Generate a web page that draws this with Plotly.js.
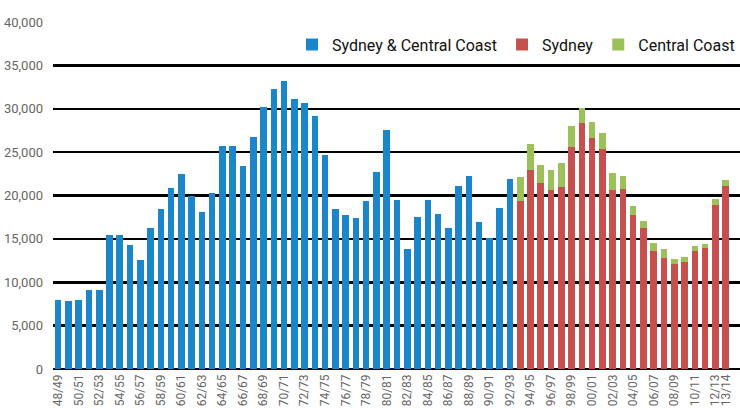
<!DOCTYPE html>
<html>
<head>
<meta charset="utf-8">
<script src="https://cdn.plot.ly/plotly-3.0.1.min.js"></script>
<style>html,body{margin:0;padding:0;background:#fff;}#chart{width:740px;height:408px;}</style>
</head>
<body>
<div id="chart"></div>
<script>
const years = ["48/49","49/50","50/51","51/52","52/53","53/54","54/55","55/56","56/57","57/58",
  "58/59","59/60","60/61","61/62","62/63","63/64","64/65","65/66","66/67","67/68",
  "68/69","69/70","70/71","71/72","72/73","73/74","74/75","75/76","76/77","77/78",
  "78/79","79/80","80/81","81/82","82/83","83/84","84/85","85/86","86/87","87/88",
  "88/89","89/90","90/91","91/92","92/93","93/94","94/95","95/96","96/97","97/98",
  "98/99","99/00","00/01","01/02","02/03","03/04","04/05","05/06","06/07","07/08",
  "08/09","09/10","10/11","11/12","12/13","13/14"];

const sydneyCentralCoastYears = years.slice(0, 45);
const sydneyCentralCoast = [7900, 7800, 8000, 9100, 9100, 15500, 15500, 14300, 12600, 16300,
  18500, 20900, 22500, 20000, 18100, 20300, 25700, 25700, 23400, 26800,
  30200, 32300, 33200, 31100, 30700, 29200, 24700, 18500, 17700, 17400,
  19400, 22700, 27500, 19500, 13800, 17500, 19500, 17900, 16300, 21100,
  22200, 16900, 15100, 18600, 21900];

const splitYears = years.slice(45);
const sydney = [19350, 22900, 21450, 20600, 21000, 25600, 28400, 26600, 25400, 20600,
  20700, 17700, 16300, 13600, 12800, 12100, 12350, 13600, 14000, 18900, 21150];
const centralCoast = [2730, 3000, 2120, 2300, 2770, 2380, 1700, 1850, 1840, 2050,
  1570, 1080, 800, 970, 1000, 540, 590, 570, 460, 660, 620];

const tickLabels = years.filter((y, i) => i % 2 === 0).concat([years[years.length - 1]]);

const blue = '#1B86CA', red = '#C5504E', green = '#9CC05A';
const traces = [
  {type: 'bar', name: 'Sydney & Central Coast', x: sydneyCentralCoastYears, y: sydneyCentralCoast,
   marker: {color: blue}},
  {type: 'bar', name: 'Sydney', x: splitYears, y: sydney, marker: {color: red}},
  {type: 'bar', name: 'Central Coast', x: splitYears, y: centralCoast, marker: {color: green}}
];

const layout = {
  width: 740, height: 408,
  margin: {l: 53, r: 0, t: 22, b: 39},
  paper_bgcolor: '#fff', plot_bgcolor: '#fff',
  barmode: 'stack', bargap: 0.36,
  font: {family: 'Roboto, sans-serif'},
  showlegend: true,
  legend: {orientation: 'h', x: 1, xanchor: 'right', y: 0.935, yanchor: 'middle',
    font: {family: 'Roboto, sans-serif', size: 16, color: '#111'}, bgcolor: 'rgba(0,0,0,0)',
    traceorder: 'normal'},
  xaxis: {type: 'category', categoryorder: 'array', categoryarray: years,
    tickmode: 'array', tickvals: tickLabels, ticktext: tickLabels,
    tickangle: -90, tickfont: {family: 'Roboto, sans-serif', size: 12, color: '#666'},
    ticklabelstandoff: 2,
    range: [-0.5, 66.4], showgrid: false, ticks: '', showline: false, zeroline: false},
  yaxis: {range: [0, 40000], dtick: 5000, tickformat: ',d',
    showgrid: true, gridcolor: '#000', gridwidth: 2.5,
    zeroline: true, zerolinecolor: '#000', zerolinewidth: 2.5,
    tickfont: {family: 'Roboto, sans-serif', size: 13, color: '#666'},
    ticklabelstandoff: 9, ticks: '', showline: false, fixedrange: true}
};

Plotly.newPlot('chart', traces, layout, {displayModeBar: false, staticPlot: true});
</script>
</body>
</html>
